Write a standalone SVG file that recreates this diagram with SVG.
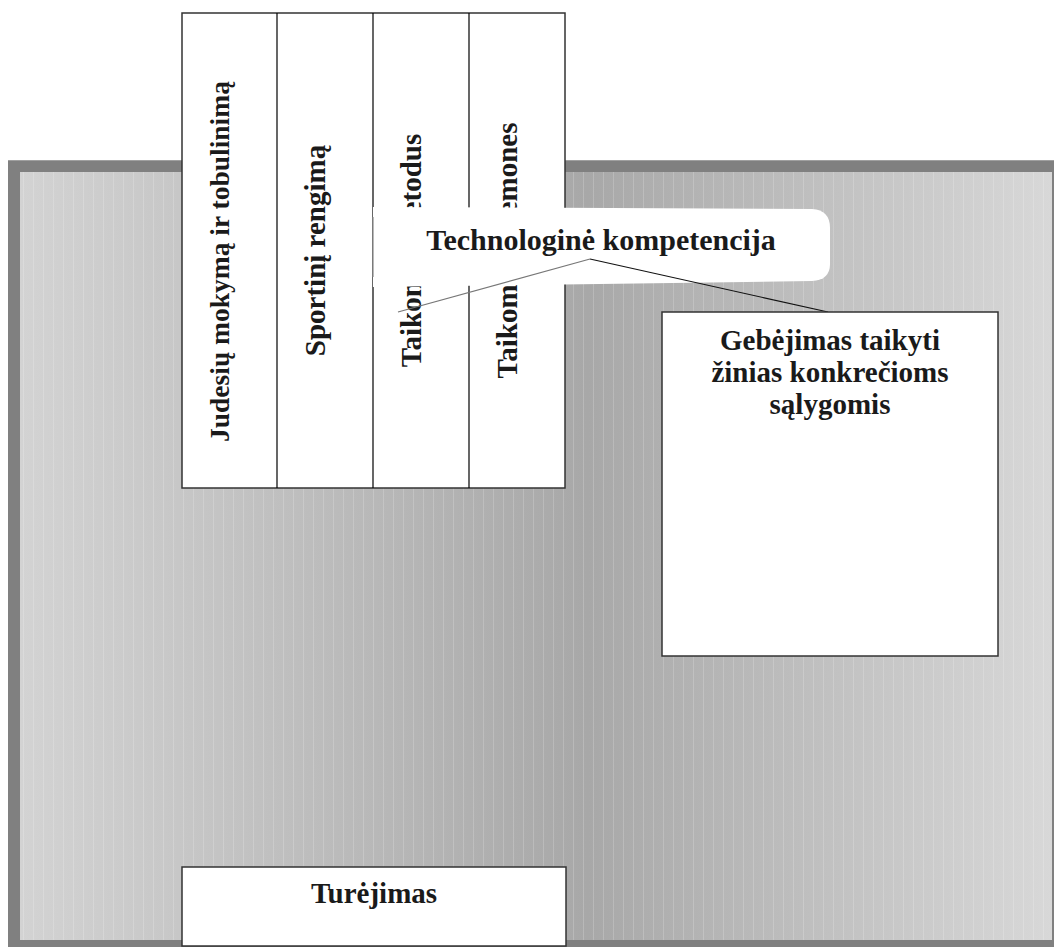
<svg xmlns="http://www.w3.org/2000/svg" width="1054" height="947" viewBox="0 0 1054 947">
<defs>
<linearGradient id="bg" x1="20" y1="0" x2="1052" y2="0" gradientUnits="userSpaceOnUse">
<stop offset="0" stop-color="#d3d3d3"/>
<stop offset="0.55" stop-color="#a8a8a8"/>
<stop offset="1" stop-color="#d8d8d8"/>
</linearGradient>
<pattern id="stripes" x="3" y="0" width="10" height="20" patternUnits="userSpaceOnUse">
<rect x="0" y="0" width="1" height="20" fill="#ffffff" fill-opacity="0.18"/>
</pattern>
<style>
.t{font-family:"Liberation Serif","Times New Roman",serif;font-weight:bold;fill:#1a1a1a;}
.box{fill:#fff;stroke:#333;stroke-width:1.5;}
.div{stroke:#000;stroke-width:1.2;fill:none;}
</style>
</defs>
<rect width="1054" height="947" fill="#fff"/>
<g id="background">
<rect x="8" y="160" width="1046" height="787" fill="#808080"/>
<line x1="8" y1="160.5" x2="1054" y2="160.5" stroke="#a0a0a0" stroke-width="1"/>
<rect x="20" y="172" width="1032" height="768" fill="url(#bg)"/>
<rect x="20" y="172" width="1032" height="768" fill="url(#stripes)"/>
</g>
<g id="columns">
<rect class="box" x="182" y="13" width="383" height="475"/>
<line class="div" x1="277" y1="13" x2="277" y2="488"/>
<line class="div" x1="373" y1="13" x2="373" y2="488"/>
<line class="div" x1="469" y1="13" x2="469" y2="488"/>
<text class="t" font-size="27.5" transform="translate(229,442) rotate(-90)">Judesių mokymą ir tobulinimą</text>
<text class="t" font-size="29" transform="translate(325,250.5) rotate(-90)" text-anchor="middle">Sportinį rengimą</text>
<text class="t" font-size="29" transform="translate(421,250.5) rotate(-90)" text-anchor="middle">Taikomus metodus</text>
<text class="t" font-size="29" transform="translate(517,250.5) rotate(-90)" text-anchor="middle">Taikomas priemones</text>
</g>
<g id="callout">
<path d="M373,207 L812,209 Q830,210 830,228 L830,264 Q830,280 812,281 L373,287 Z" fill="#fff"/>
<line x1="373" y1="217" x2="373" y2="277" stroke="#888" stroke-width="1.2"/>
<text class="t" font-size="30" x="601" y="250" text-anchor="middle">Technologinė kompetencija</text>
</g>
<g id="connectors">
<line x1="398" y1="312" x2="590" y2="259" stroke="#777" stroke-width="1.2"/>
<line x1="590" y1="259" x2="828" y2="312" stroke="#111" stroke-width="1.2"/>
</g>
<g id="gebejimas">
<rect class="box" x="662" y="312" width="336" height="344"/>
<text class="t" font-size="29" text-anchor="middle"><tspan x="830" y="350">Gebėjimas taikyti</tspan><tspan x="830" y="382">žinias konkrečioms</tspan><tspan x="830" y="414">sąlygomis</tspan></text>
</g>
<g id="turejimas">
<rect class="box" x="182" y="867" width="384" height="79"/>
<text class="t" font-size="29" x="374" y="903" text-anchor="middle">Turėjimas</text>
</g>
</svg>
